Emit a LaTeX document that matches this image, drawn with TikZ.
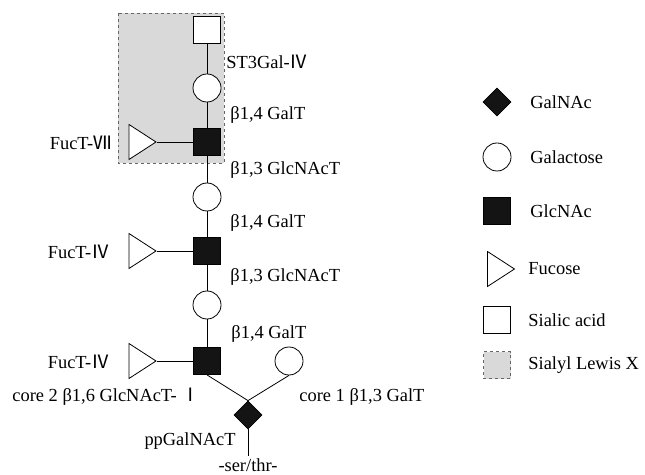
\documentclass[tikz,border=0pt]{standalone}
\usepackage{fontspec}
\setmainfont{Liberation Serif}
\newfontfamily\cjk{Noto Sans CJK SC}
\usetikzlibrary{shapes.geometric}
\newcommand{\RN}[1]{{\cjk #1}}
\tikzset{
  lbl/.style={font=\fontsize{18.5}{20}\selectfont, inner sep=0pt},
  glcnac/.style={draw, fill=black!92, minimum size=27bp, inner sep=0pt},
  gal/.style={draw, fill=white, circle, minimum size=28bp, inner sep=0pt},
  sia/.style={draw, fill=white, minimum size=27bp, inner sep=0pt},
  galnac/.style={draw, fill=black!92, diamond, minimum size=28bp, inner sep=0pt},
  fuc/.style={draw, fill=white, isosceles triangle, isosceles triangle stretches, minimum width=35bp, minimum height=27bp, inner sep=0pt},
  slex/.style={draw=black!60, dashed, fill=black!15}
}
\begin{document}
\begin{tikzpicture}[x=1bp,y=-1bp, line width=0.8bp]
\useasboundingbox (0,0) rectangle (645,475);
% Sialyl Lewis X box
\path[slex] (118,13) rectangle (224,163);
% spine nodes
\node[sia] (sa) at (207,30) {};
\node[gal] (g1) at (207,88) {};
\node[glcnac] (n1) at (207,142) {};
\node[gal] (g2) at (207,197) {};
\node[glcnac] (n2) at (207,251) {};
\node[gal] (g3) at (207,305) {};
\node[glcnac] (n3) at (207,361) {};
\node[gal] (g4) at (289,361) {};
\node[galnac] (d) at (248,415) {};
\coordinate (st) at (248,456);
% fucoses
\node[fuc] (f1) at (138.5,142) {};
\node[fuc] (f2) at (138.5,251) {};
\node[fuc] (f3) at (138.5,361) {};
% links
\draw (sa) -- (g1);
\draw (g1) -- (n1);
\draw (n1) -- (g2);
\draw (g2) -- (n2);
\draw (n2) -- (g3);
\draw (g3) -- (n3);
\draw (f1.apex) -- (n1);
\draw (f2.apex) -- (n2);
\draw (f3.apex) -- (n3);
\draw (n3.south) -- (d.north);
\draw (g4.south) -- (d.north);
\draw (d.south) -- (st);
% labels
\node[lbl, anchor=west] (l1) at (226,62) {ST3Gal-\RN{Ⅳ}};
\node[lbl, anchor=west] (l2) at (230,115) {β1,4 GalT};
\node[lbl, anchor=west] (l3) at (230,170) {β1,3 GlcNAcT};
\node[lbl, anchor=west] (l4) at (230,223) {β1,4 GalT};
\node[lbl, anchor=west] (l5) at (230,277) {β1,3 GlcNAcT};
\node[lbl, anchor=west] (l6) at (231,334) {β1,4 GalT};
\node[lbl, anchor=east] (l7) at (112,143) {FucT-\RN{Ⅶ}};
\node[lbl, anchor=east] (l8) at (110,252) {FucT-\RN{Ⅳ}};
\node[lbl, anchor=east] (l9) at (110,362) {FucT-\RN{Ⅳ}};
\node[lbl, anchor=west] (l10) at (12,397) {core 2 β1,6 GlcNAcT- \RN{Ⅰ}};
\node[lbl, anchor=west] (l11) at (299,397) {core 1 β1,3 GalT};
\node[lbl, anchor=east] (l12) at (236,441) {ppGalNAcT};
\node[lbl] (l13) at (248,465) {-ser/thr-};
% legend
\node[galnac] (k1) at (497,102) {};
\node[gal] (k2) at (497,157) {};
\node[glcnac] (k3) at (497,211) {};
\node[fuc] (k4) at (497,269) {};
\node[sia] (k5) at (497,320) {};
\node[slex, minimum size=27bp, inner sep=0pt] (k6) at (497,365) {};
\node[lbl, anchor=west] (t1) at (530,102) {GalNAc};
\node[lbl, anchor=west] (t2) at (530,157) {Galactose};
\node[lbl, anchor=west] (t3) at (530,211) {GlcNAc};
\node[lbl, anchor=west] (t4) at (528,269) {Fucose};
\node[lbl, anchor=west] (t5) at (528,320) {Sialic acid};
\node[lbl, anchor=west] (t6) at (528,365) {Sialyl Lewis X};
\end{tikzpicture}
\end{document}
